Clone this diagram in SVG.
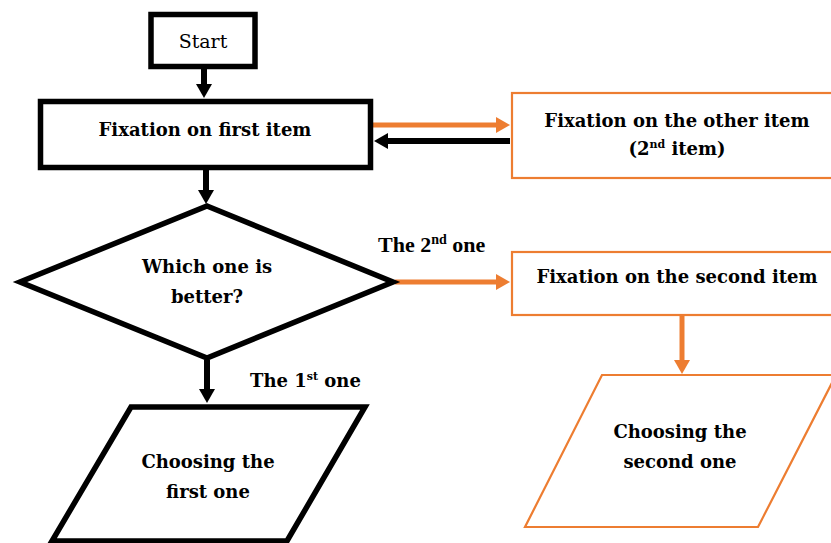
<svg xmlns="http://www.w3.org/2000/svg" width="831" height="543" viewBox="0 0 831 543">
<style>
.bk{fill:#fff;stroke:#000;stroke-width:5.5}
.or{fill:#fff;stroke:#ED7D31;stroke-width:2.2}
.t{font-family:"DejaVu Serif","Liberation Serif",serif;font-weight:bold;font-size:18px;fill:#000;text-anchor:middle}
.lb{font-family:"DejaVu Serif","Liberation Serif",serif;font-weight:bold;font-size:18px;fill:#000}
.cb{stroke:#000;stroke-width:6;fill:none}
.co{stroke:#ED7D31;stroke-width:5;fill:none}
</style>
<defs>
<marker id="ab" viewBox="0 0 14 16" refX="2" refY="8" markerWidth="14" markerHeight="16" markerUnits="userSpaceOnUse" orient="auto"><path d="M0,0L14,8L0,16z" fill="#000"/></marker>
<marker id="ao" viewBox="0 0 14 16" refX="2" refY="8" markerWidth="14" markerHeight="16" markerUnits="userSpaceOnUse" orient="auto"><path d="M0,0L14,8L0,16z" fill="#ED7D31"/></marker>
</defs>
<g id="connectors">
<line class="cb" x1="204" y1="68" x2="204" y2="86" marker-end="url(#ab)"/>
<line class="cb" x1="206" y1="170" x2="206" y2="192" marker-end="url(#ab)"/>
<line class="co" x1="373" y1="125" x2="498" y2="125" marker-end="url(#ao)"/>
<line class="cb" x1="510" y1="141" x2="386" y2="141" marker-end="url(#ab)"/>
<line class="co" x1="395" y1="282" x2="498" y2="282" marker-end="url(#ao)"/>
<line class="cb" x1="207" y1="360" x2="207" y2="391" marker-end="url(#ab)"/>
<line class="co" x1="682" y1="315" x2="682" y2="362" marker-end="url(#ao)"/>
</g>
<g id="start">
<rect class="bk" x="151" y="14.5" width="104" height="52"/>
<text x="203" y="48" class="t" style="font-weight:normal;font-size:19px">Start</text>
</g>
<g id="fix-first">
<rect class="bk" x="40.5" y="101.5" width="330" height="66"/>
<text x="205" y="136" class="t">Fixation on first item</text>
</g>
<g id="fix-other">
<rect class="or" x="512" y="93" width="322" height="85"/>
<text x="677" y="127" class="t">Fixation on the other item</text>
<text x="677" y="155" class="t">(2<tspan font-size="11" dy="-7">nd</tspan><tspan dy="7"> item)</tspan></text>
</g>
<g id="decision">
<polygon class="bk" points="207,206 393,282 207,358 20,282"/>
<text x="207" y="273" class="t">Which one is</text>
<text x="207" y="303" class="t">better?</text>
</g>
<text x="378" y="252" class="lb" style="font-family:'Liberation Serif',serif;font-size:22px">The 2<tspan font-size="14" dy="-8">nd</tspan><tspan dy="8"> one</tspan></text>
<g id="fix-second">
<rect class="or" x="512" y="252" width="322" height="63"/>
<text x="677" y="283" class="t">Fixation on the second item</text>
</g>
<text x="250" y="387" class="lb">The 1<tspan font-size="11" dy="-7">st</tspan><tspan dy="7"> one</tspan></text>
<g id="choose-first">
<polygon class="bk" points="131,407 365,407 287,541 52,541"/>
<text x="208" y="468" class="t">Choosing the</text>
<text x="208" y="498" class="t">first one</text>
</g>
<g id="choose-second">
<polygon class="or" points="602,375 836,375 758,527 525,527"/>
<text x="680" y="438" class="t">Choosing the</text>
<text x="680" y="468" class="t">second one</text>
</g>
</svg>
